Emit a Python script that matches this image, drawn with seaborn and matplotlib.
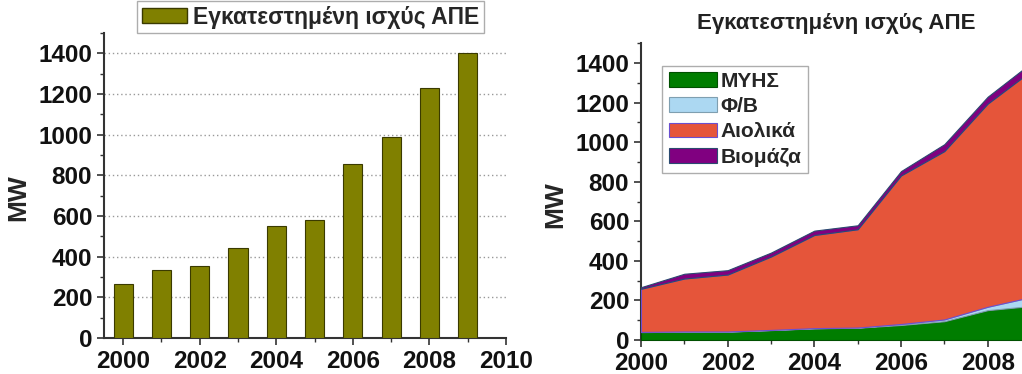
import matplotlib
matplotlib.use("Agg")
import matplotlib.pyplot as plt
import pandas as pd
import seaborn as sns
from matplotlib.ticker import MultipleLocator
from matplotlib.patches import Patch

# data
years = [2000, 2001, 2002, 2003, 2004, 2005, 2006, 2007, 2008, 2009]
total_mw = [266, 335, 353, 442, 553, 580, 854, 990, 1230, 1400]
hydro_mw = [40, 42, 42, 50, 59, 62, 76, 95, 151, 172]
pv_mw = [1, 1, 1, 1, 1, 1, 5, 9, 17, 45]
wind_mw = [218, 268, 288, 371, 471, 497, 751, 851, 1027, 1143]
bio_mw = [8, 24, 22, 20, 22, 20, 22, 35, 35, 40]
series_names = ["ΜΥΗΣ", "Φ/Β", "Αιολικά", "Βιομάζα"]
title_txt = "Εγκατεστημένη ισχύς ΑΠΕ"

sns.set_style("ticks")
plt.rcParams['font.family'] = ['Liberation Sans', 'DejaVu Sans']

df = pd.DataFrame({"year": years, "mw": total_mw})

fig = plt.figure(figsize=(10.22, 3.74), dpi=100)
ax1 = fig.add_axes([0.1018, 0.0963, 0.3932, 0.8155])
ax2 = fig.add_axes([0.6272, 0.0909, 0.3816, 0.7933])

# %% left: bars
sns.barplot(data=df, x="year", y="mw", native_scale=True, width=0.5,
            color="#808000", edgecolor="#3a3a00", linewidth=0.8,
            saturation=1, ax=ax1, zorder=3)
ax1.set_xlim(1999.5, 2010)
ax1.set_ylim(0, 1500)
ax1.set_xticks([2000, 2002, 2004, 2006, 2008, 2010])
ax1.xaxis.set_minor_locator(MultipleLocator(1))
ax1.set_yticks([0, 200, 400, 600, 800, 1000, 1200, 1400])
ax1.yaxis.set_minor_locator(MultipleLocator(100))
for v in range(200, 1401, 200):
    ax1.axhline(v, color="#999999", linestyle=(0, (1, 2)), linewidth=1, zorder=1)
ax1.set_xlabel("")
ax1.set_ylabel("MW", fontsize=19, fontweight="bold")
ax1.yaxis.set_label_coords(-0.184, 0.46)
ax1.legend(handles=[Patch(facecolor="#808000", edgecolor="#3a3a00", label=title_txt)],
           loc="upper left", bbox_to_anchor=(0.082, 1.105),
           prop={"weight": "bold", "size": 16.5},
           fancybox=False, edgecolor="#999999", handlelength=2.0,
           handleheight=0.65, handletextpad=0.25, borderpad=0.2,
           frameon=True, borderaxespad=0)

# %% right: stacked area
colors = ["#007d00", "#acd8f2", "#e5553a", "#800080"]
edges = ["#005000", "#7f9fb0", "#6a4fd0", "#2a4a70"]
polys = ax2.stackplot(years, hydro_mw, pv_mw, wind_mw, bio_mw,
                      colors=colors, labels=series_names, zorder=3)
for p, ec in zip(polys, edges):
    p.set_edgecolor(ec)
    p.set_linewidth(0.8)
ax2.set_xlim(2000, 2009)
ax2.set_ylim(0, 1500)
ax2.set_xticks([2000, 2002, 2004, 2006, 2008])
ax2.xaxis.set_minor_locator(MultipleLocator(1))
ax2.set_yticks([0, 200, 400, 600, 800, 1000, 1200, 1400])
ax2.yaxis.set_minor_locator(MultipleLocator(100))
ax2.set_ylabel("MW", fontsize=19, fontweight="bold")
ax2.yaxis.set_label_coords(-0.19, 0.455)
ax2.set_title(title_txt, fontsize=16, fontweight="bold", pad=10, color="#222222")
ax2.legend(loc="upper left", bbox_to_anchor=(0.055, 0.925),
           prop={"weight": "bold", "size": 15},
           fancybox=False, edgecolor="#999999", handlelength=2.3,
           handleheight=0.7, handletextpad=0.2, borderpad=0.3,
           labelspacing=0.3, borderaxespad=0)

for ax in (ax1, ax2):
    sns.despine(ax=ax)
    for s in ("left", "bottom"):
        ax.spines[s].set_linewidth(1.5)
        ax.spines[s].set_color("#333333")
    ax.tick_params(which="major", direction="out", length=5, width=1.2, color="#333333")
    ax.tick_params(which="minor", direction="out", length=3, width=1, color="#333333")
    for lab in ax.get_xticklabels() + ax.get_yticklabels():
        lab.set_fontweight("bold")
        lab.set_fontsize(17.5)
        lab.set_color("#111111")

fig.savefig("out.png", dpi=100)
